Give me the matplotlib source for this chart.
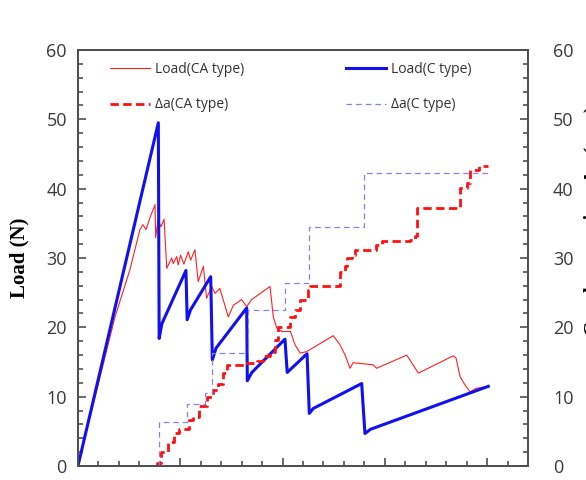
import numpy as np
import matplotlib
matplotlib.use("Agg")
import matplotlib.pyplot as plt
from matplotlib.ticker import MultipleLocator, NullFormatter

plt.rcParams['font.family'] = ['Open Sans', 'DejaVu Sans']

# Load (CA type) - thin red
load_ca_x = [0, 1.81, 2.54, 3.03, 3.18, 3.33, 3.52, 3.77, 3.80, 3.91, 4.06, 4.21, 4.34,
             4.58, 4.66, 4.83, 4.90, 5.02, 5.18, 5.39, 5.51, 5.72, 5.88, 6.13, 6.29, 6.54,
             6.70, 6.94, 7.35, 7.60, 8.00, 8.25, 8.49, 9.06, 9.39, 9.55, 9.72, 9.96, 10.39,
             10.61, 10.86, 11.18, 12.48, 12.81, 13.06, 13.30, 13.45, 14.43, 14.60, 16.07,
             16.23, 16.64, 18.35, 18.48, 18.68, 18.92, 19.17, 19.46, 20.06]
load_ca_y = [0, 21.5, 28.3, 34.1, 34.8, 34.1, 35.8, 37.7, 32.9, 35.5, 34.5, 35.6, 28.5,
             30.0, 29.2, 30.2, 29.0, 30.4, 29.1, 30.9, 29.7, 31.2, 26.6, 28.8, 24.2, 25.9,
             24.9, 25.6, 21.5, 23.2, 24.0, 23.0, 24.0, 25.2, 25.9, 21.5, 19.9, 19.4, 19.4,
             17.5, 16.3, 16.5, 18.8, 17.5, 16.0, 14.1, 14.9, 14.6, 14.1, 16.0,
             15.3, 13.4, 15.9, 15.6, 12.9, 11.7, 10.7, 11.2, 11.5]

# Load (C type) - thick blue
load_c_x = [0, 3.93, 3.97, 4.10, 5.28, 5.34, 5.50, 6.49, 6.57, 6.75, 8.25, 8.28, 8.50,
            10.12, 10.23, 11.20, 11.31, 11.50, 13.87, 14.03, 14.30, 20.06]
load_c_y = [0, 49.5, 18.4, 20.5, 28.2, 21.1, 22.5, 27.3, 15.3, 17.0, 22.8, 12.3, 13.5,
            18.3, 13.5, 16.2, 7.6, 8.3, 11.9, 4.7, 5.3, 11.5]

# crack extension (CA type) - thick red dashed, steps
da_ca_x = [3.85, 3.85, 4.05, 4.40, 4.70, 4.95, 5.45, 5.64, 5.90, 6.29, 6.62, 6.86, 7.11,
           7.27, 8.10, 8.74, 9.06, 9.39, 9.63, 9.79, 10.37, 10.61, 10.86, 11.26, 11.34,
           12.81, 13.06, 13.14, 13.38, 13.55, 14.55, 14.85, 16.23, 16.48, 16.56, 18.68,
           19.04, 19.17, 19.60, 20.06]
da_ca_y = [0, 0.5, 2.0, 3.5, 4.7, 5.4, 6.6, 7.1, 8.6, 10.0, 11.0, 11.9, 13.4,
           14.6, 14.8, 15.1, 15.8, 16.5, 18.2, 20.1, 21.5, 22.5, 24.0, 25.4, 25.9,
           28.0, 28.8, 30.0, 30.4, 31.2, 31.9, 32.4, 32.6, 33.1, 37.2, 40.1,
           40.8, 42.7, 43.3, 43.3]

# crack extension (C type) - thin lavender dashed, steps
da_c_x = [3.97, 3.97, 5.33, 6.20, 6.57, 8.30, 10.13, 11.30, 14.00, 20.06]
da_c_y = [0, 6.4, 8.9, 10.5, 16.3, 22.5, 26.4, 34.5, 42.2, 42.2]

fig = plt.figure(figsize=(5.86, 4.80), dpi=100)
ax = fig.add_axes([0.133, 0.029, 0.768, 0.867])
ax2 = ax.twinx()

l1, = ax.plot(load_ca_x, load_ca_y, color='#ff2020', lw=0.8, label='Load(CA type)')
l2, = ax.plot(load_c_x, load_c_y, color='#1010f0', lw=2.2, label='Load(C type)')
l3, = ax2.plot(da_ca_x, da_ca_y, color='#ff1010', lw=2.0, drawstyle='steps-post',
               dashes=(3, 1.6), label='Δa(CA type)')
l4, = ax2.plot(da_c_x, da_c_y, color='#8585e0', lw=0.9, drawstyle='steps-post',
               dashes=(4.5, 3.2), label='Δa(C type)')

for a in (ax, ax2):
    a.set_xlim(0, 22)
    a.set_ylim(0, 60)
    for s in a.spines.values():
        s.set_color('#505050')
        s.set_linewidth(1.4)

ax.xaxis.set_major_locator(MultipleLocator(5))
ax.xaxis.set_minor_locator(MultipleLocator(1))
ax.xaxis.set_major_formatter(NullFormatter())
ax.yaxis.set_major_locator(MultipleLocator(10))
ax.yaxis.set_minor_locator(MultipleLocator(2))
ax2.yaxis.set_major_locator(MultipleLocator(10))
ax2.yaxis.set_minor_locator(MultipleLocator(2))

ax.tick_params(axis='x', which='both', direction='in', top=False, colors='#505050')
ax.tick_params(axis='x', which='major', length=6, width=1.2)
ax.tick_params(axis='x', which='minor', length=3.5, width=1.2)
ax.tick_params(axis='y', which='both', direction='in', right=False, colors='#505050',
               labelcolor='#3a3a3a', labelsize=13, pad=8)
ax.tick_params(axis='y', which='major', length=6, width=1.2)
ax.tick_params(axis='y', which='minor', length=3.5, width=1.2)
ax2.tick_params(axis='y', which='both', direction='in', colors='#505050',
                labelcolor='#3a3a3a', labelsize=13, pad=18)
ax2.tick_params(axis='y', which='major', length=6, width=1.2)
ax2.tick_params(axis='y', which='minor', length=3.5, width=1.2)

ax.set_ylabel('Load (N)', family='Liberation Serif', fontweight='bold', fontsize=15,
              labelpad=12)
# right axis title sits mostly beyond the figure edge, as in the source image
fig.text(0.995, 0.54, 'Crack extension, Δa (mm)', rotation=90, ha='left', va='center',
         family='Liberation Serif', fontweight='bold', fontsize=15)

ax2.legend([l1, l3, l2, l4], ['Load(CA type)', 'Δa(CA type)', 'Load(C type)', 'Δa(C type)'],
           loc='upper left', bbox_to_anchor=(0.071, 0.972), ncol=2, frameon=False,
           fontsize=10, handlelength=2.9, handletextpad=0.36, columnspacing=7.3,
           labelspacing=1.5, borderaxespad=0, borderpad=0, labelcolor='#333333')

fig.savefig('out.png', dpi=100)
